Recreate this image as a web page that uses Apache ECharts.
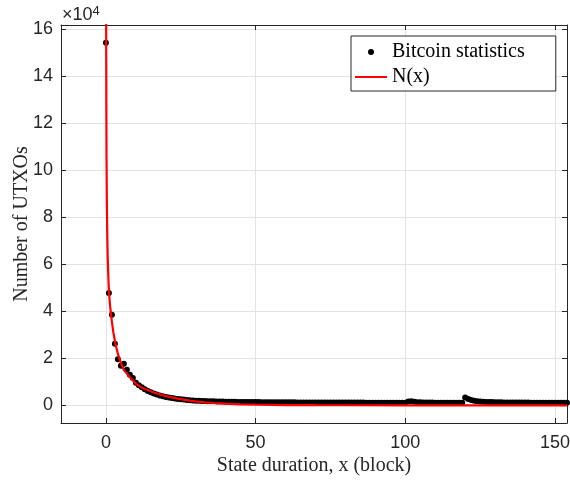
<!DOCTYPE html>
<html>
<head>
<meta charset="utf-8">
<script src="https://cdn.jsdelivr.net/npm/echarts@6/dist/echarts.min.js"></script>
<style>
html,body{margin:0;padding:0;background:#fff;}
#chart{width:570px;height:482px;}
</style>
</head>
<body>
<div id="chart"></div>
<script>
// Bitcoin statistics: UTXO counts at state duration x = 0,1,2,...
const statCounts = [
  154300, 47800, 38600, 26200, 19600, 16800, 17700, 15200, 13000, 11600, 9600,
  8600, 7700, 6900, 6100, 5600, 5000, 4600, 4200, 3900, 3600,
  3300, 3100, 2900, 2700, 2600, 2450, 2300, 2200, 2100, 2000,
  1950, 1900, 1850, 1800, 1750, 1700, 1680, 1650, 1600, 1580,
  1550, 1520, 1500, 1480, 1460, 1450, 1430, 1420, 1400, 1390,
  1380, 1370, 1360, 1350, 1340, 1330, 1320, 1310, 1300, 1300,
  1290, 1280, 1280, 1270, 1260, 1260, 1250, 1250, 1240, 1240,
  1230, 1230, 1220, 1220, 1210, 1210, 1200, 1200, 1200, 1190,
  1190, 1180, 1180, 1180, 1170, 1170, 1160, 1160, 1160, 1150,
  1150, 1150, 1140, 1140, 1140, 1130, 1130, 1130, 1120, 1150,
  1600, 1800, 1500, 1350, 1280, 1240, 1210, 1190, 1170, 1160,
  1150, 1140, 1130, 1120, 1110, 1100, 1100, 1090, 1080, 3300,
  2700, 2300, 2000, 1800, 1650, 1550, 1480, 1420, 1380, 1340,
  1310, 1290, 1270, 1250, 1230, 1220, 1210, 1200, 1190, 1180,
  1170, 1160, 1150, 1150, 1140, 1130, 1130, 1120, 1110, 1110,
  1100, 1100, 1090, 1090
];
// Fitted curve N(x)
const curveX = [0.03, 0.06, 0.1, 0.15, 0.2, 0.3, 0.4, 0.5, 0.6, 0.8, 1, 1.25, 1.5, 2, 2.5, 3, 3.5, 4, 5, 6, 7, 8, 9, 10, 11, 12, 13, 14, 15, 16, 18, 20, 22, 24, 26, 28, 30, 33, 36, 40, 45, 50, 60, 70, 80, 100, 120, 140, 154];
const curveY = [260000, 190000, 150000, 123000, 106000, 88000, 77000, 69000, 63000, 55000, 49000, 44500, 41000, 35500, 31000, 27500, 24500, 22000, 18000, 15000, 13500, 12000, 10600, 9200, 8300, 7600, 7000, 6500, 6000, 5500, 4700, 4000, 3400, 2900, 2450, 2050, 1700, 1300, 1000, 700, 450, 300, 140, 70, 40, 18, 9, 6, 5];
// Axis ticks
const xTicks = [0, 50, 100, 150];
const yTicks = [0, 20000, 40000, 60000, 80000, 100000, 120000, 140000, 160000];
const xRange = [-15, 154];
const yRange = [-7500, 161800];

const axisColor = '#262626';
const gridColor = '#e3e3e3';
const chart = echarts.init(document.getElementById('chart'));

function mkX(pos, show) {
  return {
    type: 'value', position: pos, min: xRange[0], max: xRange[1],
    axisLine: { show: true, onZero: false, lineStyle: { color: axisColor, width: 1 } },
    axisTick: { show: true, inside: true, length: 5, customValues: xTicks, lineStyle: { color: axisColor } },
    axisLabel: { show: show, customValues: xTicks, margin: 11, color: axisColor, fontFamily: 'Liberation Sans', fontSize: 18 },
    splitLine: { show: show, lineStyle: { color: gridColor, width: 1 } },
    name: show ? 'State duration, x (block)' : '',
    nameLocation: 'middle', nameGap: 33, nameMoveOverlap: false,
    nameTextStyle: { fontFamily: 'Liberation Serif', fontSize: 20, color: axisColor }
  };
}
function mkY(pos, show) {
  return {
    type: 'value', position: pos, min: yRange[0], max: yRange[1],
    axisLine: { show: true, onZero: false, lineStyle: { color: axisColor, width: 1 } },
    axisTick: { show: true, inside: true, length: 5, customValues: yTicks, lineStyle: { color: axisColor } },
    axisLabel: { show: show, customValues: yTicks, margin: 8, color: axisColor, fontFamily: 'Liberation Sans', fontSize: 18,
                 formatter: v => String(Math.round(v / 10000)) },
    splitLine: { show: show, lineStyle: { color: gridColor, width: 1 } },
    name: show ? 'Number of UTXOs' : '',
    nameLocation: 'middle', nameGap: 29, nameMoveOverlap: false,
    nameTextStyle: { fontFamily: 'Liberation Serif', fontSize: 20, color: axisColor }
  };
}

chart.setOption({
  animation: false,
  backgroundColor: '#fff',
  grid: { left: 61, right: 3, top: 25, bottom: 59, containLabel: false, outerBoundsMode: 'none' },
  xAxis: [mkX('bottom', true), mkX('top', false)],
  yAxis: [mkY('left', true), mkY('right', false)],
  legend: {
    orient: 'vertical', left: 351, top: 36,
    align: 'left',
    itemWidth: 32, itemHeight: 6, itemGap: 5,
    padding: [6, 31, 4, 4],
    borderColor: axisColor, borderWidth: 1, backgroundColor: '#fff',
    textStyle: { fontFamily: 'Liberation Serif', fontSize: 20, color: '#000' },
    data: [
      { name: 'Bitcoin statistics', icon: 'circle' },
      { name: 'N(x)', icon: 'path://M0,0 H32 V2 H0 Z' }
    ]
  },
  graphic: [{
    type: 'text', left: 62, top: 5,
    style: {
      text: '×10{s|4}',
      fill: axisColor,
      font: '18px "Liberation Sans"',
      rich: { s: { fontSize: 13, fontFamily: 'Liberation Sans', fill: axisColor, verticalAlign: 'top', padding: [0, 0, 8, 0] } }
    }
  }],
  series: [
    {
      name: 'Bitcoin statistics', type: 'scatter', xAxisIndex: 0, yAxisIndex: 0,
      symbol: 'circle', symbolSize: 6,
      itemStyle: { color: '#000', opacity: 1 },
      data: statCounts.map((v, i) => [i, v]),
      z: 2
    },
    {
      name: 'N(x)', type: 'line', xAxisIndex: 0, yAxisIndex: 0,
      symbol: 'none', showSymbol: false, smooth: false, clip: true,
      lineStyle: { color: '#ff0000', width: 2.2 },
      itemStyle: { color: '#ff0000' },
      data: curveX.map((x, i) => [x, curveY[i]]),
      z: 3
    }
  ]
});
</script>
</body>
</html>
